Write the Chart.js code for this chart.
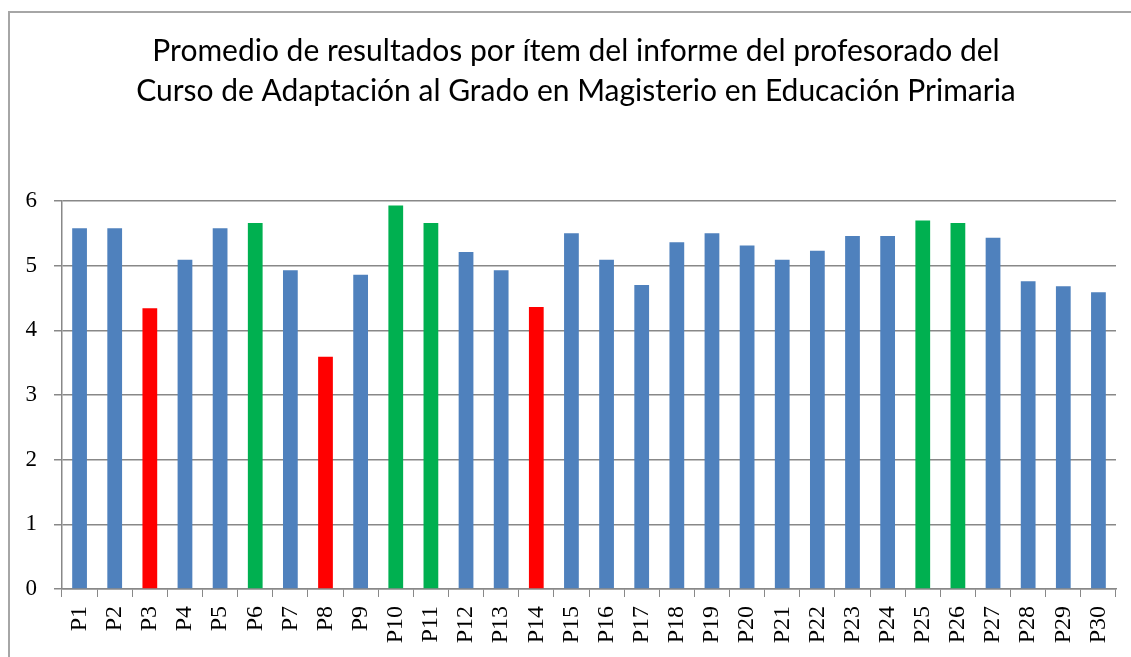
<!DOCTYPE html>
<html>
<head>
<meta charset="utf-8">
<script src="https://cdn.jsdelivr.net/npm/chart.js@4.4.0/dist/chart.umd.min.js"></script>
<style>
html,body{margin:0;padding:0;background:#fff;overflow:hidden}
#frame{position:absolute;left:8px;top:11px;width:1200px;height:660px;border-left:2px solid #a6a6a6;border-top:2px solid #a6a6a6}
#wrap{position:absolute;left:0;top:0;width:1152px;height:657px}
</style>
</head>
<body>
<div id="frame"></div>
<div id="wrap"><canvas id="chart"></canvas></div>
<script>
const labels=["P1","P2","P3","P4","P5","P6","P7","P8","P9","P10","P11","P12","P13","P14","P15","P16","P17","P18","P19","P20","P21","P22","P23","P24","P25","P26","P27","P28","P29","P30"]
const values=[5.58,5.58,4.34,5.09,5.58,5.66,4.93,3.59,4.86,5.93,5.66,5.21,4.93,4.36,5.50,5.09,4.70,5.36,5.50,5.31,5.09,5.23,5.46,5.46,5.70,5.66,5.43,4.76,4.68,4.59]
const low=["P3","P8","P14"]
const high=["P6","P10","P11","P25","P26"]
const yTicks=[0,1,2,3,4,5,6]

const colors=labels.map(l=>low.includes(l)?"#ff0000":high.includes(l)?"#00b050":"#4f81bd")

new Chart(document.getElementById("chart"),{
type:"bar",
data:{labels:labels,datasets:[{data:values,backgroundColor:colors,barPercentage:0.42,categoryPercentage:1}]},
options:{
responsive:true,maintainAspectRatio:false,animation:false,
layout:{padding:{left:0,right:0,top:0,bottom:0}},
plugins:{
legend:{display:false},
tooltip:{enabled:false},
title:{display:true,
text:["Promedio de resultados por ítem del informe del profesorado del","Curso de Adaptación al Grado en Magisterio en Educación Primaria"],
color:"#000",font:{family:"Lato",size:30,weight:"normal",lineHeight:1.333},
padding:{top:31,bottom:90}}
},
scales:{
x:{
grid:{offset:true,drawOnChartArea:false,drawTicks:true,tickLength:8,color:"#888"},
border:{color:"#888",width:1.5},
ticks:{maxRotation:90,minRotation:90,color:"#000",padding:9,font:{family:"Liberation Serif",size:24}},
afterFit:s=>{s.height=68}
},
y:{
min:0,max:6,
afterBuildTicks:s=>{s.ticks=yTicks.map(v=>({value:v}))},
grid:{color:"#888",lineWidth:1.5,tickLength:8},
border:{color:"#888",width:1.5},
ticks:{color:"#000",padding:17,font:{family:"Liberation Serif",size:23}},
afterFit:s=>{s.width=62}
},
spacer:{
position:"right",min:0,max:6,
grid:{display:false},border:{display:false},ticks:{display:false},
afterFit:s=>{s.width=36}
}
}
}
})
</script>
</body>
</html>
